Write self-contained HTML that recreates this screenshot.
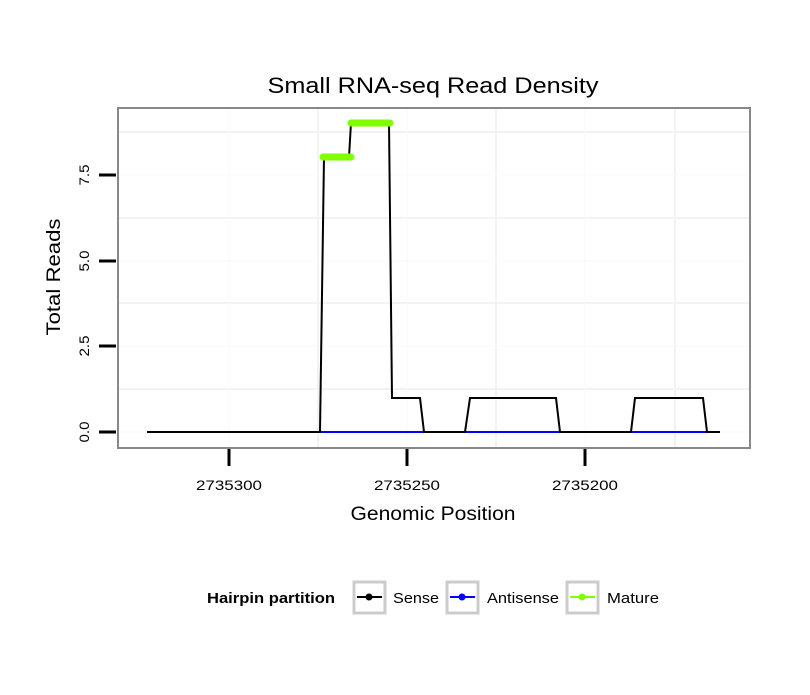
<!DOCTYPE html>
<html><head><style>body{margin:0;background:#fff}</style></head><body>
<svg width="810" height="690" xmlns="http://www.w3.org/2000/svg" font-family="Liberation Sans, sans-serif">
<rect width="810" height="690" fill="#fff"/>
<text x="433" y="93" font-size="22" text-anchor="middle" textLength="331" lengthAdjust="spacingAndGlyphs">Small RNA-seq Read Density</text>
<g stroke="#f3f3f3" stroke-width="2">
<line x1="119" x2="749" y1="389" y2="389"/><line x1="119" x2="749" y1="303" y2="303"/>
<line x1="119" x2="749" y1="218" y2="218"/><line x1="119" x2="749" y1="132" y2="132"/>
<line x1="318" x2="318" y1="109" y2="447"/><line x1="496" x2="496" y1="109" y2="447"/><line x1="675" x2="675" y1="109" y2="447"/>
</g>
<g stroke="#f9f9f9" stroke-width="1">
<line x1="119" x2="749" y1="432" y2="432"/><line x1="119" x2="749" y1="346" y2="346"/><line x1="119" x2="749" y1="261" y2="261"/><line x1="119" x2="749" y1="175" y2="175"/>
<line x1="229" x2="229" y1="109" y2="447"/><line x1="407" x2="407" y1="109" y2="447"/><line x1="585" x2="585" y1="109" y2="447"/>
</g>
<rect x="118" y="108" width="632" height="340" fill="none" stroke="#888" stroke-width="2"/>
<line x1="320" x2="720" y1="432" y2="432" stroke="#0000ff" stroke-width="2"/>
<polyline fill="none" stroke="#000" stroke-width="2" points="147,432 320,432 324,157 349,157 351,123 389,123 392,398 420,398 424,432 465,432 470,398 556,398 560,432 631,432 635,398 703,398 707,432 720,432"/>
<line x1="323" x2="351" y1="157" y2="157" stroke="#7fff00" stroke-width="7" stroke-linecap="round"/>
<line x1="351" x2="390" y1="123" y2="123" stroke="#7fff00" stroke-width="7" stroke-linecap="round"/>
<g stroke="#000" stroke-width="3">
<line x1="99" x2="116" y1="432" y2="432"/><line x1="99" x2="116" y1="346" y2="346"/><line x1="99" x2="116" y1="261" y2="261"/><line x1="99" x2="116" y1="175" y2="175"/>
<line x1="229" x2="229" y1="449" y2="466"/><line x1="407" x2="407" y1="449" y2="466"/><line x1="585" x2="585" y1="449" y2="466"/>
</g>
<g font-size="14" text-anchor="middle">
<text transform="translate(89,432) rotate(-90)" textLength="21" lengthAdjust="spacingAndGlyphs">0.0</text>
<text transform="translate(89,346) rotate(-90)" textLength="21" lengthAdjust="spacingAndGlyphs">2.5</text>
<text transform="translate(89,261) rotate(-90)" textLength="21" lengthAdjust="spacingAndGlyphs">5.0</text>
<text transform="translate(89,175) rotate(-90)" textLength="21" lengthAdjust="spacingAndGlyphs">7.5</text>
<text x="229" y="490" textLength="66" lengthAdjust="spacingAndGlyphs">2735300</text><text x="407" y="490" textLength="66" lengthAdjust="spacingAndGlyphs">2735250</text><text x="585" y="490" textLength="66" lengthAdjust="spacingAndGlyphs">2735200</text>
</g>
<text x="433" y="520" font-size="19" text-anchor="middle" textLength="165" lengthAdjust="spacingAndGlyphs">Genomic Position</text>
<text transform="translate(60,277) rotate(-90)" font-size="19" text-anchor="middle" textLength="117" lengthAdjust="spacingAndGlyphs">Total Reads</text>
<text x="207" y="603" font-size="15" font-weight="bold" textLength="128" lengthAdjust="spacingAndGlyphs">Hairpin partition</text>
<g stroke="#ccc" stroke-width="3" fill="#fff">
<rect x="354" y="582" width="31" height="31"/><rect x="447" y="582" width="31" height="31"/><rect x="567" y="582" width="31" height="31"/>
</g>
<line x1="357" x2="382" y1="597" y2="597" stroke="#000" stroke-width="2"/><circle cx="369" cy="597" r="3.5" fill="#000"/>
<line x1="450" x2="475" y1="597" y2="597" stroke="#00f" stroke-width="2"/><circle cx="462" cy="597" r="3.5" fill="#00f"/>
<line x1="570" x2="595" y1="597" y2="597" stroke="#7fff00" stroke-width="2"/><circle cx="582" cy="597" r="3.5" fill="#7fff00"/>
<g font-size="15"><text x="393" y="603" textLength="46" lengthAdjust="spacingAndGlyphs">Sense</text><text x="487" y="603" textLength="72" lengthAdjust="spacingAndGlyphs">Antisense</text><text x="607" y="603" textLength="52" lengthAdjust="spacingAndGlyphs">Mature</text></g>
</svg>
</body></html>
